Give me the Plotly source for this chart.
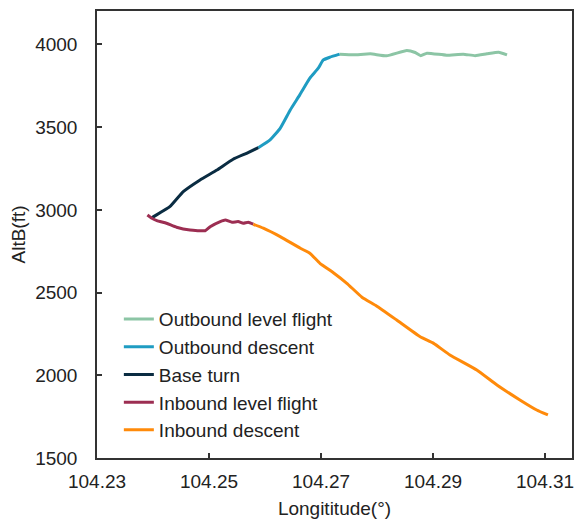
import plotly.graph_objects as go

# Outbound level flight
olf_lon = [104.2733, 104.2758, 104.2788, 104.2817, 104.2853, 104.2868, 104.2878, 104.2889,
           104.2924, 104.2954, 104.2975, 104.2996, 104.3017, 104.3032]
olf_alt = [3941, 3937, 3943, 3931, 3963, 3951, 3932, 3947, 3935, 3941, 3932, 3943, 3953, 3937]

# Outbound descent
od_lon = [104.2588, 104.2609, 104.2627, 104.2645, 104.2662, 104.2680, 104.2695, 104.2704,
          104.2716, 104.2733]
od_alt = [3376, 3423, 3493, 3604, 3695, 3796, 3856, 3906, 3923, 3941]

# Base turn
bt_lon = [104.2398, 104.2401, 104.2430, 104.2454, 104.2484, 104.2514, 104.2543, 104.2567, 104.2588]
bt_alt = [2952, 2959, 3019, 3110, 3181, 3241, 3306, 3342, 3376]

# Inbound level flight
ilf_lon = [104.2390, 104.2398, 104.2407, 104.2424, 104.2442, 104.2466, 104.2493, 104.2502,
           104.2520, 104.2529, 104.2541, 104.2552, 104.2561, 104.2570, 104.2579]
ilf_alt = [2969, 2949, 2935, 2919, 2895, 2878, 2874, 2898, 2929, 2939, 2925, 2929, 2919, 2925, 2913]

# Inbound descent
id_lon = [104.2579, 104.2597, 104.2627, 104.2663, 104.2680, 104.2698, 104.2722, 104.2746,
          104.2773, 104.2799, 104.2835, 104.2877, 104.2901, 104.2930, 104.2978, 104.3014,
          104.3055, 104.3085, 104.3105]
id_alt = [2913, 2889, 2838, 2768, 2738, 2677, 2620, 2556, 2472, 2419, 2334, 2233, 2193, 2123,
          2032, 1941, 1851, 1790, 1760]

series = [
    ("Outbound level flight", olf_lon, olf_alt, "#8CC5A5"),
    ("Outbound descent", od_lon, od_alt, "#1F9CC2"),
    ("Base turn", bt_lon, bt_alt, "#0A2C42"),
    ("Inbound level flight", ilf_lon, ilf_alt, "#9C2E52"),
    ("Inbound descent", id_lon, id_alt, "#FF8A0A"),
]

x_ticks = [104.23, 104.25, 104.27, 104.29, 104.31]
y_ticks = [1500, 2000, 2500, 3000, 3500, 4000]

FONT = "Liberation Sans, Arial, sans-serif"

fig = go.Figure()
for name, xs, ys, col in series:
    fig.add_trace(go.Scatter(x=xs, y=ys, mode="lines", name=name,
                             line=dict(color=col, width=3, shape="spline", smoothing=0.4)))

axis_common = dict(showgrid=False, zeroline=False, showline=True, linecolor="#333333",
                   linewidth=1.5, mirror=True, ticks="inside", ticklen=5, tickwidth=1.5,
                   tickcolor="#333333", automargin=False, ticklabeloverflow="allow",
                   tickfont=dict(family=FONT, size=19, color="#222222"))

fig.update_layout(
    width=574, height=520,
    margin=dict(l=97, r=2, t=11, b=62),
    paper_bgcolor="white", plot_bgcolor="white",
    font=dict(family=FONT, size=19, color="#222222"),
    xaxis=dict(range=[104.23, 104.3148], tickvals=x_ticks,
               ticktext=[f"{v:.2f}" for v in x_ticks],
               title=dict(text="Longititude(°)", font=dict(family=FONT, size=19), standoff=11),
               ticklabelstandoff=5, **axis_common),
    yaxis=dict(range=[1500, 4202], tickvals=y_ticks,
               ticktext=[str(v) for v in y_ticks],
               title=dict(text="AltB(ft)", font=dict(family=FONT, size=19), standoff=5),
               ticklabelstandoff=14, **axis_common),
    legend=dict(x=0.046, y=0.353, xanchor="left", yanchor="top",
                bgcolor="rgba(0,0,0,0)", font=dict(family=FONT, size=19, color="#222222"),
                tracegroupgap=0),
    showlegend=True,
)

fig.write_html("out.html", config={"displayModeBar": False},
               post_script="document.body.style.margin='0';")
